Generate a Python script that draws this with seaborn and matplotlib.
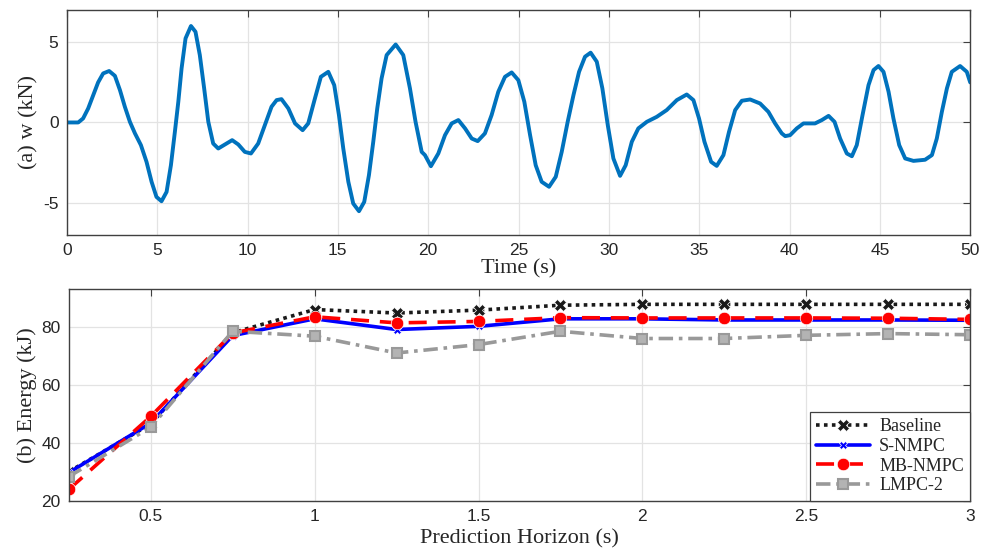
import numpy as np
import pandas as pd
import seaborn as sns
import matplotlib.pyplot as plt

# (a) wave excitation force
time_s = [0, 0.3, 0.63, 0.9, 1.18, 1.46, 1.73, 2.01, 2.34, 2.66, 2.94, 3.21, 3.49, 3.77,
          4.1, 4.41, 4.69, 4.96, 5.24, 5.52, 5.76, 5.98, 6.17, 6.35, 6.57, 6.87, 7.12,
          7.36, 7.6, 7.83, 8.1, 8.38, 8.75, 9.15, 9.49, 9.85, 10.19, 10.59, 10.96,
          11.33, 11.61, 11.88, 12.26, 12.63, 13.05, 13.36, 13.73, 14.06, 14.47, 14.8,
          15.06, 15.3, 15.58, 15.85, 16.17, 16.46, 16.72, 16.96, 17.18, 17.42, 17.7,
          18.2, 18.62, 18.99, 19.3, 19.64, 19.82, 20.15, 20.56, 20.93, 21.3, 21.67,
          22.04, 22.41, 22.74, 23.14, 23.51, 23.88, 24.25, 24.62, 24.99, 25.32, 25.64,
          25.95, 26.28, 26.69, 27.06, 27.39, 27.72, 28.04, 28.35, 28.68, 28.99, 29.33,
          29.64, 29.94, 30.25, 30.62, 30.93, 31.27, 31.63, 32.1, 32.65, 33.2, 33.76,
          34.31, 34.68, 34.99, 35.29, 35.66, 35.97, 36.34, 36.65, 36.99, 37.36, 37.82,
          38.37, 38.83, 39.2, 39.57, 39.76, 40.03, 40.4, 40.77, 41.41, 41.79, 42.16,
          42.49, 42.8, 43.17, 43.45, 43.72, 44.04, 44.37, 44.65, 44.92, 45.2, 45.48,
          45.75, 46.07, 46.4, 46.86, 47.5, 47.88, 48.15, 48.43, 48.71, 48.98, 49.44,
          49.81, 50.0]
force_kn = [0, 0, 0, 0.25, 0.87, 1.7, 2.49, 3.05, 3.2, 2.9, 2.01, 0.98, 0.04, -0.68,
            -1.41, -2.45, -3.69, -4.63, -4.9, -4.32, -2.66, -0.58, 1.29, 3.36, 5.23, 6.0, 5.64,
            4.19, 2.12, 0.04, -1.31, -1.62, -1.37, -1.1, -1.37, -1.83, -1.93, -1.31, -0.17,
            0.98, 1.39, 1.45, 0.87, -0.06, -0.48, -0.06, 1.49, 2.84, 3.15, 2.32,
            0.46, -1.62, -3.69, -5.04, -5.52, -4.94, -3.28, -1.2, 0.87, 2.74, 4.19,
            4.85, 4.19, 2.12, 0.04, -1.83, -2.03, -2.72, -1.93, -0.79, -0.06, 0.15,
            -0.37, -1.0, -1.16, -0.68, 0.46, 1.91, 2.84, 3.11, 2.63, 1.29, -0.79,
            -2.66, -3.69, -4.0, -3.38, -1.83, 0.04, 1.7, 3.15, 4.09, 4.34, 3.78,
            2.12, -0.17, -2.24, -3.32, -2.66, -1.2, -0.37, 0.04, 0.35, 0.77, 1.39,
            1.74, 1.39, 0.25, -1.2, -2.45, -2.7, -2.03, -0.58, 0.77, 1.35, 1.43,
            1.18, 0.66, -0.06, -0.68, -0.85, -0.79, -0.37, -0.06, -0.06, 0.15, 0.41,
            0.04, -1.0, -1.93, -2.1, -1.41, 0.46, 2.32, 3.26, 3.51, 3.15, 1.91,
            0.25, -1.41, -2.24, -2.39, -2.32, -2.03, -1.0, 0.66, 2.12, 3.15, 3.51,
            3.15, 2.49]

# (b) absorbed energy vs prediction horizon
horizon = [0.25, 0.5, 0.75, 1.0, 1.25, 1.5, 1.75, 2.0, 2.25, 2.5, 2.75, 3.0]
baseline = [30.0, 46.5, 78.0, 86.0, 84.8, 85.8, 87.5, 87.8, 87.8, 87.8, 87.8, 87.8]
s_nmpc = [29.7, 46.8, 77.0, 82.8, 79.1, 80.2, 82.8, 82.8, 82.4, 82.4, 82.4, 82.3]
mb_nmpc = [23.9, 49.1, 77.9, 83.5, 81.4, 81.9, 83.2, 83.1, 83.1, 83.1, 83.0, 82.6]
lmpc2 = [28.3, 45.4, 78.5, 76.8, 71.0, 73.9, 78.5, 76.0, 76.0, 77.1, 77.7, 77.3]

sns.set_style("whitegrid")
plt.rcParams['font.family'] = ['Liberation Sans', 'DejaVu Sans']
plt.rcParams['axes.unicode_minus'] = False
serif = ['Liberation Serif', 'DejaVu Serif']
spine_col = '#404040'

fig = plt.figure(figsize=(9.83, 5.51), dpi=100)
ax1 = fig.add_axes([0.068, 0.5735, 0.919, 0.4085])
ax2 = fig.add_axes([0.070, 0.0913, 0.917, 0.3837])


def style_axes(ax):
    ax.grid(True, color='#e3e3e3', linewidth=0.9)
    for sp in ax.spines.values():
        sp.set_color(spine_col)
        sp.set_linewidth(1.0)
    ax.tick_params(direction='in', top=True, right=True, length=5,
                   labelsize=12.5, colors=spine_col, labelcolor='#262626', pad=6)


# top panel
sns.lineplot(x=time_s, y=force_kn, ax=ax1, color='#0072BD', linewidth=2.8,
             sort=False, estimator=None)
ax1.set_xlim(0, 50)
ax1.set_ylim(-7, 7)
ax1.set_xticks(np.arange(0, 51, 5))
ax1.set_yticks([-5, 0, 5])
ax1.set_xlabel('Time (s)', family=serif, fontsize=16, labelpad=1)
ax1.set_ylabel('(a) w (kN)', family=serif, fontsize=16, labelpad=3)
style_axes(ax1)

# bottom panel
series = [
    ('Baseline', baseline, dict(color='#1a1a1a', linestyle=(0, (1, 1.2)), linewidth=2.6,
                                marker='X', markersize=8, markeredgewidth=0.5)),
    ('S-NMPC', s_nmpc, dict(color='#0000ff', linestyle='-', linewidth=2.6,
                            marker='X', markersize=6, markeredgewidth=0.5)),
    ('MB-NMPC', mb_nmpc, dict(color='#ff0000', linestyle=(0, (5, 3)), linewidth=2.6,
                              marker='o', markersize=9, markeredgewidth=0.5)),
    ('LMPC-2', lmpc2, dict(color='#999999', linestyle=(0, (4, 1.6, 1, 1.6)), linewidth=2.6,
                           marker='s', markersize=7, markerfacecolor='#b3b3b3',
                           markeredgecolor='#999999', markeredgewidth=1.5)),
]
for name, vals, kw in series:
    df = pd.DataFrame({'horizon': horizon, 'energy': vals})
    sns.lineplot(data=df, x='horizon', y='energy', ax=ax2, label=name, **kw)

ax2.set_xlim(0.25, 3)
ax2.set_ylim(20, 93)
ax2.set_xticks([0.5, 1, 1.5, 2, 2.5, 3])
ax2.set_xticklabels(['0.5', '1', '1.5', '2', '2.5', '3'])
ax2.set_yticks([20, 40, 60, 80])
ax2.set_xlabel('Prediction Horizon (s)', family=serif, fontsize=16, labelpad=4)
ax2.set_ylabel('(b) Energy (kJ)', family=serif, fontsize=16, labelpad=3)
style_axes(ax2)

leg = ax2.legend(loc='lower right', prop={'family': serif, 'size': 13},
                 frameon=True, fancybox=False, framealpha=1, edgecolor=spine_col,
                 handlelength=3.0, borderaxespad=0.0, labelspacing=0.15,
                 borderpad=0.35, handletextpad=0.5)
leg.get_frame().set_linewidth(0.9)

fig.savefig('out.png', dpi=100)
